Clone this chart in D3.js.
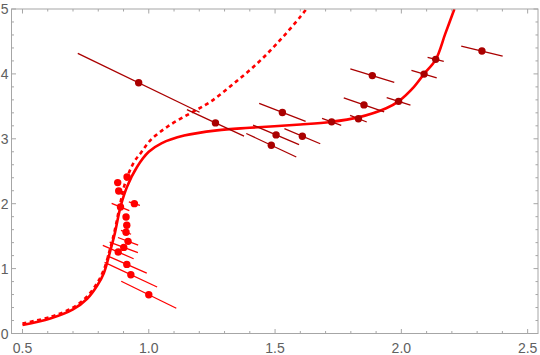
<!DOCTYPE html>
<html>
<head>
<meta charset="utf-8">
<script src="https://cdn.jsdelivr.net/npm/d3@7"></script>
<style>
  body { margin: 0; background: #fff; }
  text { font-family: "Liberation Sans", Arial, sans-serif; }
</style>
</head>
<body>
<script>
var width = 540, height = 355;

// dark red series: point, and half-extent of its slanted bar
var darkX  = [0.960, 1.264, 1.529, 1.885, 1.852, 1.989, 1.724, 1.830, 1.504, 1.608, 1.485, 2.319, 2.136, 2.090];
var darkY  = [3.863, 3.245, 3.406, 3.974, 3.522, 3.577, 3.261, 3.310, 3.060, 3.040, 2.901, 4.352, 4.224, 3.997];
var darkEx = [0.241, 0.113, 0.092, 0.087, 0.080, 0.047, 0.038, 0.033, 0.091, 0.071, 0.099, 0.082, 0.032, 0.050];
var darkEy = [0.454, 0.204, 0.139, 0.103, 0.108, 0.059, 0.054, 0.051, 0.151, 0.116, 0.181, 0.077, 0.031, 0.057];

// bright red series
var redX  = [0.914, 0.877, 0.881, 0.888, 0.943, 0.910, 0.913, 0.910, 0.918, 0.901, 0.879, 0.913, 0.929, 1.000];
var redY  = [2.412, 2.325, 2.196, 1.949, 2.001, 1.795, 1.667, 1.559, 1.420, 1.327, 1.255, 1.065, 0.906, 0.597];
var redEx = [0.012, 0.008, 0.008, 0.035, 0.022, 0.012, 0.012, 0.020, 0.040, 0.056, 0.061, 0.079, 0.104, 0.109];
var redEy = [0.020, 0.012, 0.012, 0.057, 0.026, 0.020, 0.020, 0.030, 0.059, 0.082, 0.103, 0.134, 0.190, 0.208];

// solid curve
var solidX = [0.50, 0.61, 0.70, 0.756, 0.796, 0.822, 0.848, 0.866, 0.888, 0.914, 0.954, 1.00, 1.05, 1.14, 1.27, 1.40, 1.60, 1.72, 1.83, 1.94, 1.99, 2.05, 2.09, 2.136, 2.174, 2.21];
var solidY = [0.13, 0.23, 0.37, 0.535, 0.74, 0.93, 1.28, 1.55, 1.95, 2.26, 2.57, 2.80, 2.93, 3.05, 3.13, 3.17, 3.22, 3.26, 3.33, 3.47, 3.58, 3.80, 4.00, 4.22, 4.62, 5.00];

// dashed curve
var dashX = [0.50, 0.61, 0.70, 0.756, 0.796, 0.822, 0.848, 0.866, 0.885, 0.905, 0.94, 0.97, 1.007, 1.075, 1.165, 1.244, 1.336, 1.429, 1.508, 1.60, 1.624];
var dashY = [0.155, 0.255, 0.40, 0.57, 0.78, 0.98, 1.32, 1.60, 1.96, 2.30, 2.63, 2.79, 2.98, 3.19, 3.395, 3.57, 3.85, 4.16, 4.47, 4.88, 5.00];

var xTicks = [0.5, 1.0, 1.5, 2.0, 2.5];
var yTicks = [0, 1, 2, 3, 4, 5];

var x = d3.scaleLinear().domain([0.4565, 2.541]).range([11.5, 538]);
var y = d3.scaleLinear().domain([0, 5]).range([333.5, 9]);

var svg = d3.select("body").append("svg")
    .attr("width", width)
    .attr("height", height);

var plot = svg.append("g");
plot.append("clipPath").attr("id", "clip")
    .append("rect")
    .attr("x", x.range()[0]).attr("y", y.range()[1])
    .attr("width", x.range()[1] - x.range()[0])
    .attr("height", y.range()[0] - y.range()[1]);

var inner = plot.append("g").attr("clip-path", "url(#clip)");

var line = d3.line()
    .x((d) => x(d[0]))
    .y((d) => y(d[1]))
    .curve(d3.curveCatmullRom.alpha(0.5));

inner.append("path")
    .attr("d", line(dashX.map((v, i) => [v, dashY[i]])))
    .attr("fill", "none")
    .attr("stroke", "#ff0000")
    .attr("stroke-width", 2.6)
    .attr("stroke-dasharray", "4,3.5");

inner.append("path")
    .attr("d", line(solidX.map((v, i) => [v, solidY[i]])))
    .attr("fill", "none")
    .attr("stroke", "#ff0000")
    .attr("stroke-width", 2.6);

function drawSeries(xs, ys, ex, ey, color) {
    var pts = xs.map((v, i) => ({x: v, y: ys[i], ex: ex[i], ey: ey[i]}));
    inner.append("g").selectAll("line")
        .data(pts)
        .enter()
        .append("line")
        .attr("x1", (d) => x(d.x - d.ex))
        .attr("y1", (d) => y(d.y + d.ey))
        .attr("x2", (d) => x(d.x + d.ex))
        .attr("y2", (d) => y(d.y - d.ey))
        .attr("stroke", color)
        .attr("stroke-width", 1.3);
    inner.append("g").selectAll("circle")
        .data(pts)
        .enter()
        .append("circle")
        .attr("cx", (d) => x(d.x))
        .attr("cy", (d) => y(d.y))
        .attr("r", 3.7)
        .attr("fill", color);
}

drawSeries(redX, redY, redEx, redEy, "#ff0000");
drawSeries(darkX, darkY, darkEx, darkEy, "#aa0000");

// frame
var frameColor = "#a6a6a6";
plot.append("rect")
    .attr("x", x.range()[0]).attr("y", y.range()[1])
    .attr("width", x.range()[1] - x.range()[0])
    .attr("height", y.range()[0] - y.range()[1])
    .attr("fill", "none")
    .attr("stroke", frameColor)
    .attr("stroke-width", 1);

// ticks, pointing inward on all four sides
var xMinor = d3.range(5, 26).map((d) => d / 10);
var yMinor = d3.range(0, 26).map((d) => d / 5);
var ticks = plot.append("g").attr("stroke", frameColor).attr("stroke-width", 1);
xMinor.forEach((v) => {
    var major = xTicks.some((t) => Math.abs(t - v) < 1e-9);
    var len = major ? 4.5 : 2.5;
    ticks.append("line").attr("x1", x(v)).attr("x2", x(v))
        .attr("y1", y(0)).attr("y2", y(0) - len);
    ticks.append("line").attr("x1", x(v)).attr("x2", x(v))
        .attr("y1", y(5)).attr("y2", y(5) + len);
});
yMinor.forEach((v) => {
    var major = yTicks.some((t) => Math.abs(t - v) < 1e-9);
    var len = major ? 4.5 : 2.5;
    ticks.append("line").attr("y1", y(v)).attr("y2", y(v))
        .attr("x1", x.range()[0]).attr("x2", x.range()[0] + len);
    ticks.append("line").attr("y1", y(v)).attr("y2", y(v))
        .attr("x1", x.range()[1]).attr("x2", x.range()[1] - len);
});

plot.append("g").selectAll("text")
    .data(xTicks)
    .enter()
    .append("text")
    .attr("x", (d) => x(d))
    .attr("y", y(0) + 19)
    .attr("text-anchor", "middle")
    .attr("font-size", 14)
    .attr("fill", "#606060")
    .text((d) => d.toFixed(1));

plot.append("g").selectAll("text")
    .data(yTicks)
    .enter()
    .append("text")
    .attr("x", x.range()[0] - 3)
    .attr("y", (d) => y(d) + 5)
    .attr("text-anchor", "end")
    .attr("font-size", 14)
    .attr("fill", "#606060")
    .text((d) => d);
</script>
</body>
</html>
